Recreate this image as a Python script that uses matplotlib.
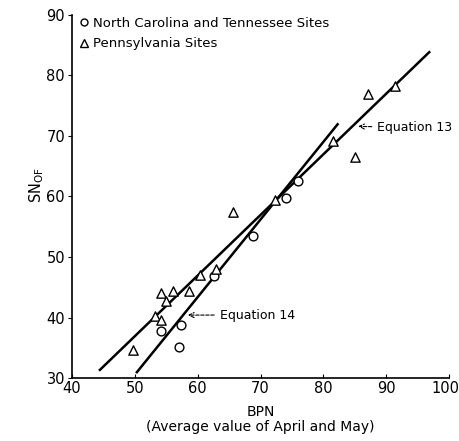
import matplotlib
matplotlib.use("Agg")
import matplotlib.pyplot as plt
from matplotlib.lines import Line2D
from matplotlib.transforms import ScaledTranslation

plt.rcParams['font.family'] = ['DejaVu Sans']

# Data
nc_tn_bpn = [76.0, 74.1, 68.8, 62.6, 54.2, 57.4, 57.0]
nc_tn_sn = [62.6, 59.8, 53.5, 46.9, 37.8, 38.8, 35.1]

pa_bpn = [91.4, 87.1, 81.6, 85.0, 72.3, 65.6, 62.9, 60.3, 58.7, 56.0, 54.1, 54.9, 53.2, 54.2, 49.7]
pa_sn = [78.2, 77.0, 69.2, 66.6, 59.5, 57.4, 48.0, 47.1, 44.4, 44.3, 44.0, 42.7, 40.3, 39.6, 34.7]

eq13_x = [44.3, 97.0]
eq13_y = [31.2, 84.0]
eq14_x = [50.2, 82.4]
eq14_y = [30.8, 72.1]

x_ticks = [40, 50, 60, 70, 80, 90, 100]
y_ticks = [30, 40, 50, 60, 70, 80, 90]

fig = plt.figure(figsize=(4.6, 4.41), dpi=100)
ax = fig.add_axes([72/460, 1 - 378/441, (449 - 72)/460, (378 - 15)/441])

ax.plot(eq13_x, eq13_y, color='black', lw=1.8, solid_capstyle='butt')
ax.plot(eq14_x, eq14_y, color='black', lw=1.8, solid_capstyle='butt')

ax.scatter(nc_tn_bpn, nc_tn_sn, s=40, marker='o', facecolors='white',
           edgecolors='black', linewidths=1.0, zorder=3)
ax.scatter(pa_bpn, pa_sn, s=45, marker='^', facecolors='white',
           edgecolors='black', linewidths=1.0, zorder=3)

ax.set_xlim(40, 100)
ax.set_ylim(30, 90)
ax.set_xticks(x_ticks)
ax.set_yticks(y_ticks)
ax.tick_params(axis='x', direction='in', length=3, labelsize=10.5, pad=2)
ax.tick_params(axis='y', direction='out', length=3, labelsize=10.5, pad=2)
for s in ['top', 'right']:
    ax.spines[s].set_visible(False)
for s in ['left', 'bottom']:
    ax.spines[s].set_linewidth(1.2)

# keep the last x tick label inside the canvas
last = ax.get_xticklabels()[-1]
last.set_transform(last.get_transform() + ScaledTranslation(-4/100, 0, fig.dpi_scale_trans))

ax.set_xlabel('BPN\n(Average value of April and May)', fontsize=10, linespacing=1.05, labelpad=7)
ax.set_ylabel(r'SN$_{\rm OF}$', fontsize=10.5)
ax.yaxis.set_label_coords(-0.068, 0.53)

arrow = dict(arrowstyle='->', color='black', lw=0.8, linestyle=(0, (3, 1.5)))
ax.annotate('Equation 13', xy=(85.1, 71.6), xytext=(88.6, 71.4),
            ha='left', va='center', fontsize=9, arrowprops=arrow)
ax.annotate('Equation 14', xy=(58.0, 40.4), xytext=(63.5, 40.4),
            ha='left', va='center', fontsize=9, arrowprops=arrow)

handles = [
    Line2D([], [], ls='none', marker='o', markersize=5, markerfacecolor='white',
           markeredgecolor='black', markeredgewidth=1.0),
    Line2D([], [], ls='none', marker='^', markersize=6, markerfacecolor='white',
           markeredgecolor='black', markeredgewidth=1.0),
]
ax.legend(handles, ['North Carolina and Tennessee Sites', 'Pennsylvania Sites'],
          loc='upper left', bbox_to_anchor=(-0.006, 1.02), frameon=False, fontsize=9.5,
          handlelength=0.8, handletextpad=0.3, labelspacing=0.55, borderpad=0.2)

fig.savefig('out.png', dpi=100)
